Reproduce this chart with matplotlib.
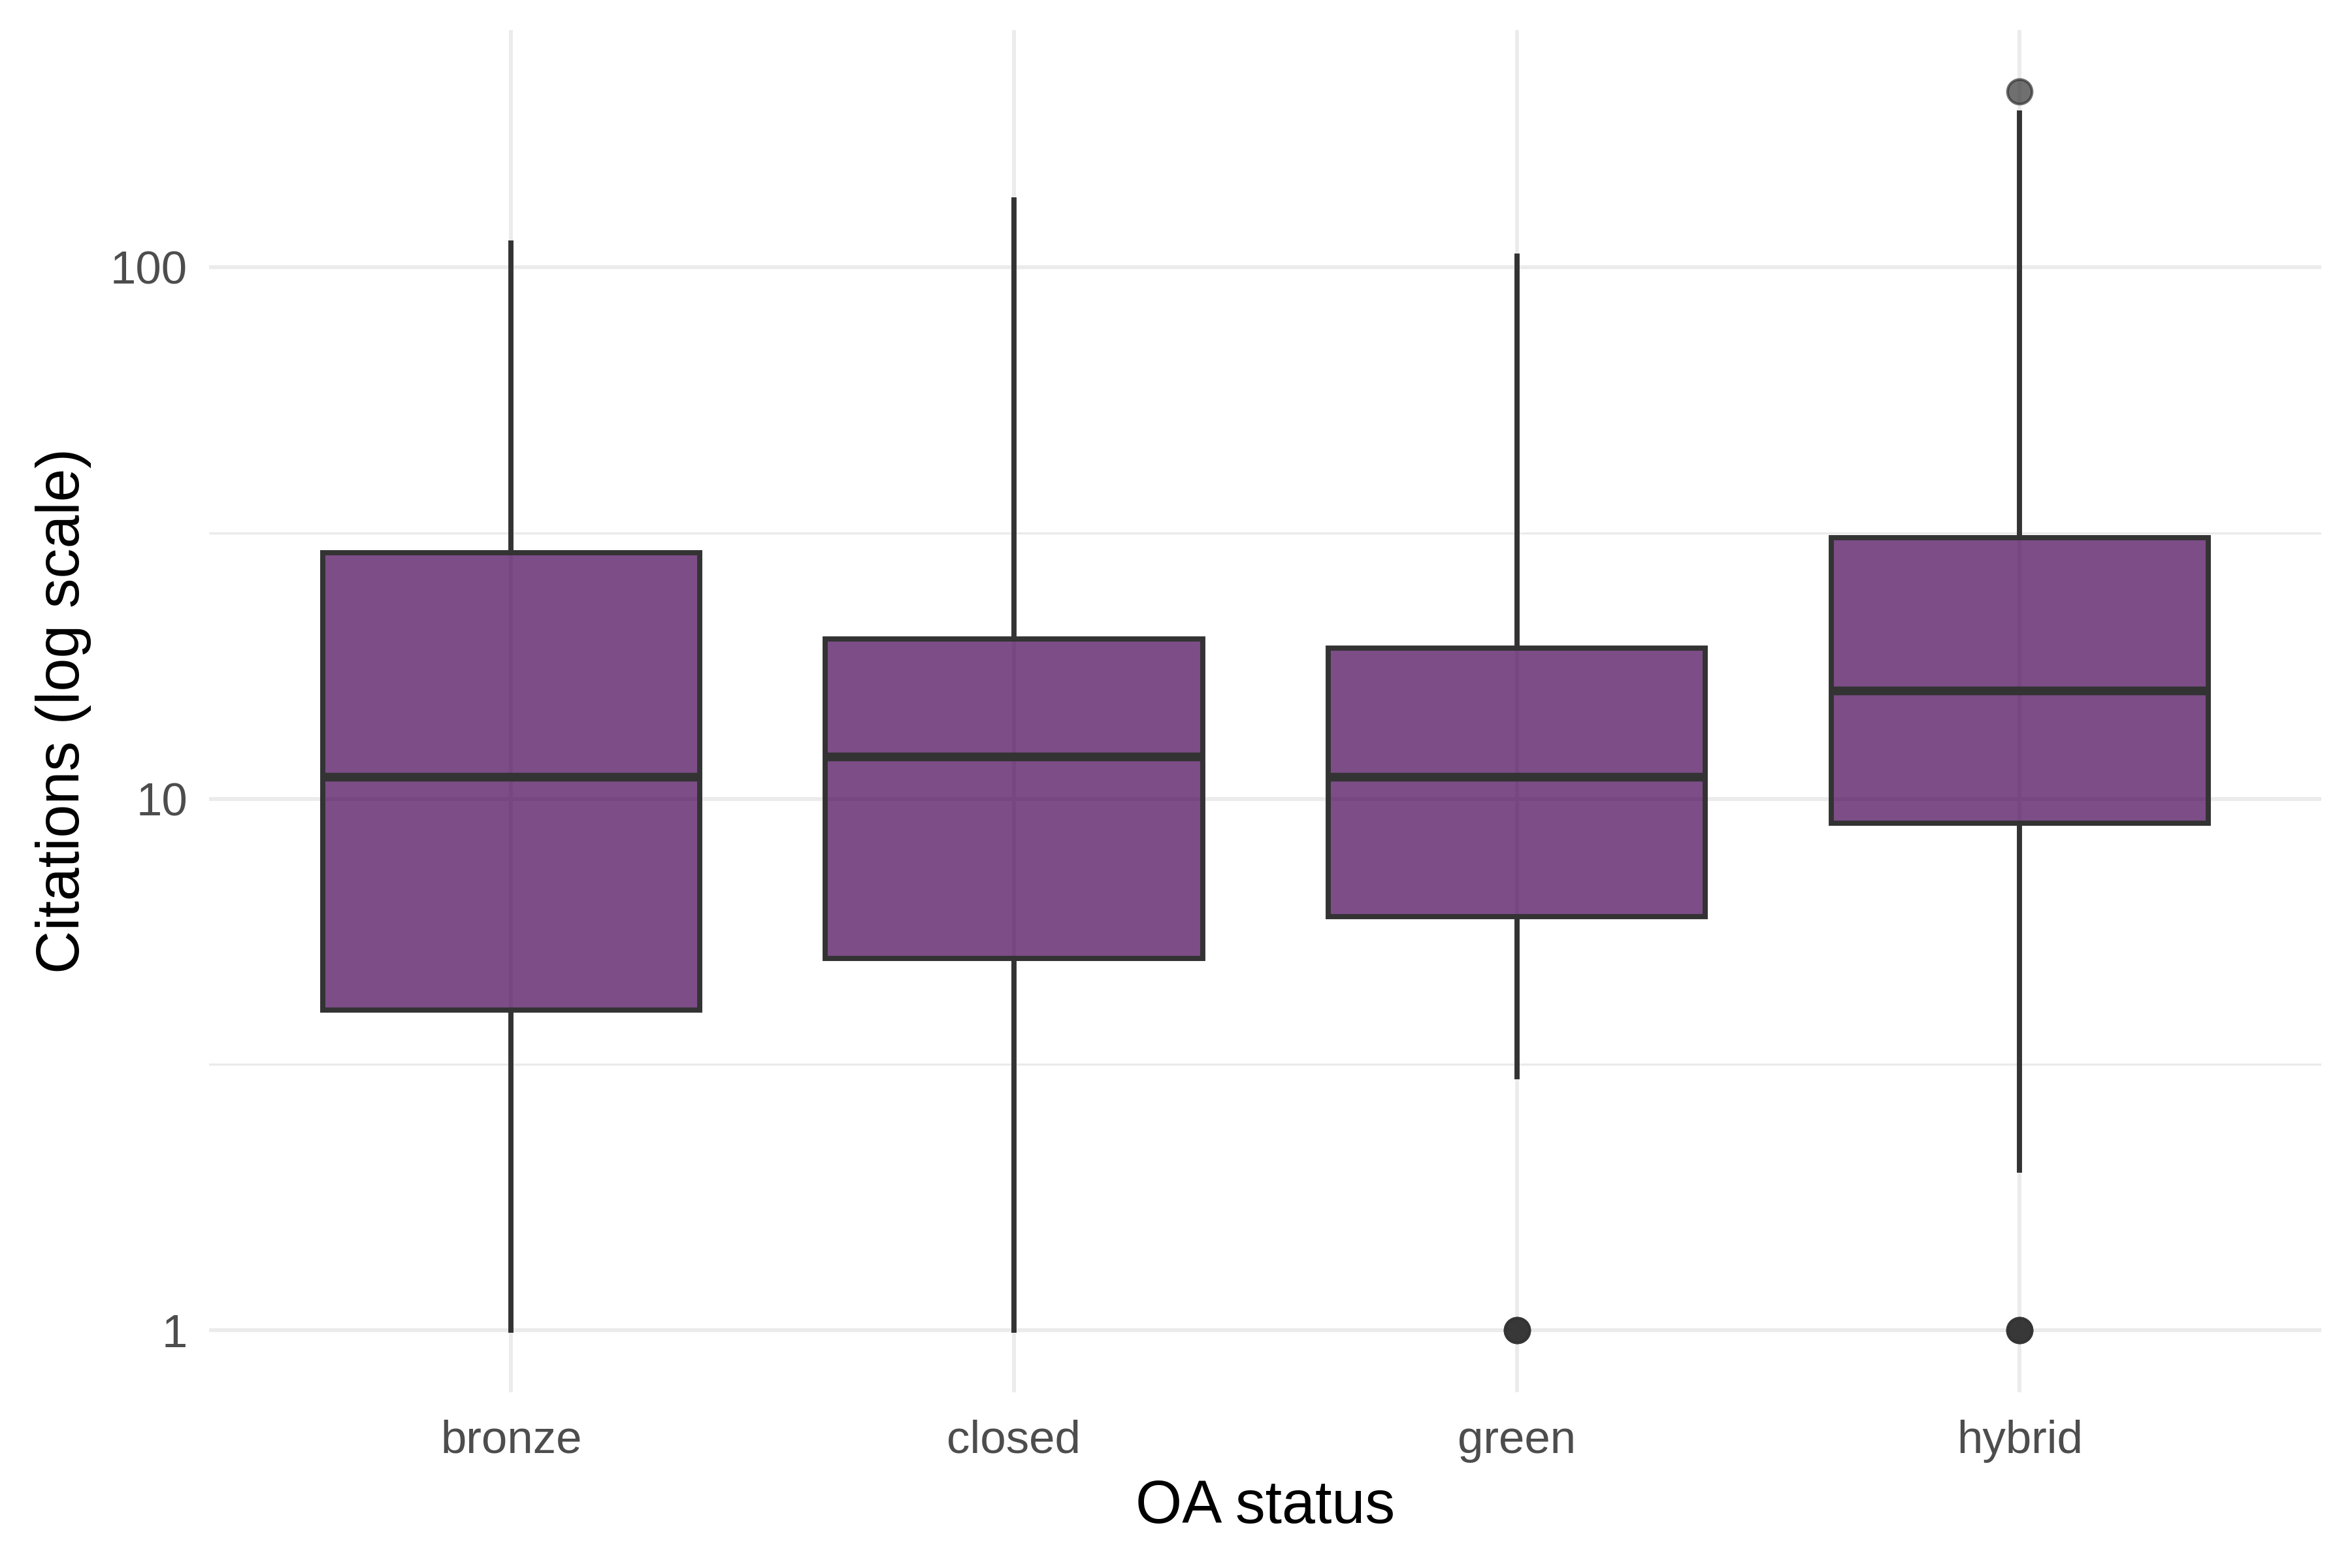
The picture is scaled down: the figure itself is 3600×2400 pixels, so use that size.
import numpy as np
import matplotlib
matplotlib.use("Agg")
import matplotlib.pyplot as plt

# values (citations)
status = ["bronze", "closed", "green", "hybrid"]
whisker_low = [1, 1, 3, 2]
q1 = [4, 5, 6, 9]
median = [11, 12, 11, 16]
q3 = [29, 20, 19.2, 31]
whisker_high = [111, 134, 105, 195]
outliers = [[], [], [1, 1, 1], [1, 1, 1, 214]]

plt.rcParams["font.family"] = ["Liberation Sans", "DejaVu Sans"]

fig = plt.figure(figsize=(12, 8), dpi=300)
ax = fig.add_axes([0.089, 0.112, 0.898, 0.869])

stats = []
for i in range(len(status)):
    stats.append({
        "label": status[i],
        "whislo": whisker_low[i],
        "q1": q1[i],
        "med": median[i],
        "q3": q3[i],
        "whishi": whisker_high[i],
        "fliers": outliers[i],
    })

ax.set_yscale("log")
bp = ax.bxp(stats, positions=range(1, 5), widths=0.75, patch_artist=True,
            showcaps=False,
            boxprops=dict(facecolor="#440154", edgecolor="#333333", linewidth=1.9),
            medianprops=dict(color="#333333", linewidth=3.2),
            whiskerprops=dict(color="#333333", linewidth=1.9),
            flierprops=dict(marker="o", markerfacecolor="#333333", markeredgecolor="#333333",
                            markersize=9, alpha=0.7))
for b in bp["boxes"]:
    b.set_facecolor((0.267, 0.004, 0.329, 0.7))
    b.set_zorder(2)
for m in bp["medians"]:
    m.set_zorder(3)

ax.set_xlim(0.4, 4.6)
ax.set_ylim(10 ** -0.117, 10 ** 2.447)
ax.set_yticks([1, 10, 100])
ax.set_yticklabels(["1", "10", "100"])
ax.set_yticks([10 ** 0.5, 10 ** 1.5], minor=True)
ax.yaxis.set_minor_formatter(matplotlib.ticker.NullFormatter())

ax.grid(True, which="major", color="#EBEBEB", linewidth=1.4)
ax.grid(True, which="minor", axis="y", color="#EBEBEB", linewidth=0.8)
ax.set_axisbelow(True)
for s in ax.spines.values():
    s.set_visible(False)
ax.tick_params(which="both", length=0, labelsize=17, labelcolor="#4D4D4D", pad=8)
ax.tick_params(axis="x", pad=10)

ax.set_xlabel("OA status", fontsize=22, labelpad=6)
ax.set_ylabel("Citations (log scale)", fontsize=22, labelpad=7)

fig.savefig("out.png", dpi=300, facecolor="white")
